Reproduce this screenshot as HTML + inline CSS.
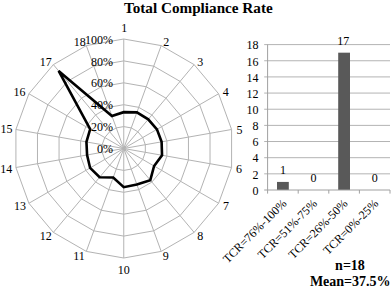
<!DOCTYPE html><html><head><meta charset="utf-8"><style>html,body{margin:0;padding:0;background:#fff;width:392px;height:288px;overflow:hidden}svg{display:block}text{font-family:"Liberation Serif",serif;fill:#000}</style></head><body>
<svg width="392" height="288" viewBox="0 0 392 288">
<polygon points="123.75,126.60 131.24,127.92 137.83,131.72 142.72,137.55 145.32,144.70 145.32,152.30 142.72,159.45 137.83,165.28 131.24,169.08 123.75,170.40 116.26,169.08 109.67,165.28 104.78,159.45 102.18,152.30 102.18,144.70 104.78,137.55 109.67,131.72 116.26,127.92" fill="none" stroke="#b3b3b3" stroke-width="1"/>
<polygon points="123.75,104.70 138.73,107.34 151.90,114.95 161.68,126.60 166.88,140.89 166.88,156.11 161.68,170.40 151.90,182.05 138.73,189.66 123.75,192.30 108.77,189.66 95.60,182.05 85.82,170.40 80.62,156.11 80.62,140.89 85.82,126.60 95.60,114.95 108.77,107.34" fill="none" stroke="#b3b3b3" stroke-width="1"/>
<polygon points="123.75,82.80 146.22,86.76 165.98,98.17 180.65,115.65 188.45,137.09 188.45,159.91 180.65,181.35 165.98,198.83 146.22,210.24 123.75,214.20 101.28,210.24 81.52,198.83 66.85,181.35 59.05,159.91 59.05,137.09 66.85,115.65 81.52,98.17 101.28,86.76" fill="none" stroke="#b3b3b3" stroke-width="1"/>
<polygon points="123.75,60.90 153.71,66.18 180.06,81.39 199.61,104.70 210.02,133.29 210.02,163.71 199.61,192.30 180.06,215.61 153.71,230.82 123.75,236.10 93.79,230.82 67.44,215.61 47.89,192.30 37.48,163.71 37.48,133.29 47.89,104.70 67.44,81.39 93.79,66.18" fill="none" stroke="#b3b3b3" stroke-width="1"/>
<polygon points="123.75,39.00 161.20,45.60 194.14,64.62 218.58,93.75 231.59,129.49 231.59,167.51 218.58,203.25 194.14,232.38 161.20,251.40 123.75,258.00 86.30,251.40 53.36,232.38 28.92,203.25 15.91,167.51 15.91,129.49 28.92,93.75 53.36,64.62 86.30,45.60" fill="none" stroke="#b3b3b3" stroke-width="1"/>
<line x1="123.75" y1="148.50" x2="123.75" y2="39.00" stroke="#b3b3b3" stroke-width="1"/>
<line x1="123.75" y1="148.50" x2="161.20" y2="45.60" stroke="#b3b3b3" stroke-width="1"/>
<line x1="123.75" y1="148.50" x2="194.14" y2="64.62" stroke="#b3b3b3" stroke-width="1"/>
<line x1="123.75" y1="148.50" x2="218.58" y2="93.75" stroke="#b3b3b3" stroke-width="1"/>
<line x1="123.75" y1="148.50" x2="231.59" y2="129.49" stroke="#b3b3b3" stroke-width="1"/>
<line x1="123.75" y1="148.50" x2="231.59" y2="167.51" stroke="#b3b3b3" stroke-width="1"/>
<line x1="123.75" y1="148.50" x2="218.58" y2="203.25" stroke="#b3b3b3" stroke-width="1"/>
<line x1="123.75" y1="148.50" x2="194.14" y2="232.38" stroke="#b3b3b3" stroke-width="1"/>
<line x1="123.75" y1="148.50" x2="161.20" y2="251.40" stroke="#b3b3b3" stroke-width="1"/>
<line x1="123.75" y1="148.50" x2="123.75" y2="258.00" stroke="#b3b3b3" stroke-width="1"/>
<line x1="123.75" y1="148.50" x2="86.30" y2="251.40" stroke="#b3b3b3" stroke-width="1"/>
<line x1="123.75" y1="148.50" x2="53.36" y2="232.38" stroke="#b3b3b3" stroke-width="1"/>
<line x1="123.75" y1="148.50" x2="28.92" y2="203.25" stroke="#b3b3b3" stroke-width="1"/>
<line x1="123.75" y1="148.50" x2="15.91" y2="167.51" stroke="#b3b3b3" stroke-width="1"/>
<line x1="123.75" y1="148.50" x2="15.91" y2="129.49" stroke="#b3b3b3" stroke-width="1"/>
<line x1="123.75" y1="148.50" x2="28.92" y2="93.75" stroke="#b3b3b3" stroke-width="1"/>
<line x1="123.75" y1="148.50" x2="53.36" y2="64.62" stroke="#b3b3b3" stroke-width="1"/>
<line x1="123.75" y1="148.50" x2="86.30" y2="45.60" stroke="#b3b3b3" stroke-width="1"/>
<polygon points="123.75,112.15 136.90,112.38 148.24,119.31 156.94,129.34 161.60,141.83 162.03,155.25 154.10,166.02 150.29,180.12 136.86,184.51 123.75,187.15 113.19,177.52 99.61,177.27 90.09,167.94 87.09,154.96 86.44,141.92 90.18,129.12 58.64,70.91 111.92,115.98" fill="none" stroke="#000" stroke-width="2.6" stroke-linejoin="miter" stroke-miterlimit="4"/>
<text x="113" y="153.10" font-size="12" text-anchor="end">0%</text>
<text x="113" y="131.20" font-size="12" text-anchor="end">20%</text>
<text x="113" y="109.30" font-size="12" text-anchor="end">40%</text>
<text x="113" y="87.40" font-size="12" text-anchor="end">60%</text>
<text x="113" y="65.50" font-size="12" text-anchor="end">80%</text>
<text x="113" y="43.60" font-size="12" text-anchor="end">100%</text>
<text x="124.25" y="32.40" font-size="12" text-anchor="middle">1</text>
<text x="166.15" y="46.05" font-size="12" text-anchor="middle">2</text>
<text x="200.20" y="66.05" font-size="12" text-anchor="middle">3</text>
<text x="225.85" y="95.90" font-size="12" text-anchor="middle">4</text>
<text x="239.50" y="133.50" font-size="12" text-anchor="middle">5</text>
<text x="239.00" y="172.80" font-size="12" text-anchor="middle">6</text>
<text x="226.00" y="209.85" font-size="12" text-anchor="middle">7</text>
<text x="200.20" y="240.45" font-size="12" text-anchor="middle">8</text>
<text x="165.85" y="259.85" font-size="12" text-anchor="middle">9</text>
<text x="123.80" y="273.55" font-size="12" text-anchor="middle">10</text>
<text x="79.10" y="259.85" font-size="12" text-anchor="middle">11</text>
<text x="45.80" y="240.05" font-size="12" text-anchor="middle">12</text>
<text x="19.95" y="209.70" font-size="12" text-anchor="middle">13</text>
<text x="6.25" y="172.55" font-size="12" text-anchor="middle">14</text>
<text x="6.60" y="133.45" font-size="12" text-anchor="middle">15</text>
<text x="19.60" y="96.20" font-size="12" text-anchor="middle">16</text>
<text x="45.70" y="66.05" font-size="12" text-anchor="middle">17</text>
<text x="79.70" y="46.10" font-size="12" text-anchor="middle">18</text>
<text x="198.35" y="12.6" font-size="15.2" font-weight="bold" text-anchor="middle">Total Compliance Rate</text>
<line x1="264.20" y1="173.84" x2="390.00" y2="173.84" stroke="#b3b3b3" stroke-width="1"/>
<line x1="264.20" y1="157.69" x2="390.00" y2="157.69" stroke="#b3b3b3" stroke-width="1"/>
<line x1="264.20" y1="141.53" x2="390.00" y2="141.53" stroke="#b3b3b3" stroke-width="1"/>
<line x1="264.20" y1="125.38" x2="390.00" y2="125.38" stroke="#b3b3b3" stroke-width="1"/>
<line x1="264.20" y1="109.22" x2="390.00" y2="109.22" stroke="#b3b3b3" stroke-width="1"/>
<line x1="264.20" y1="93.07" x2="390.00" y2="93.07" stroke="#b3b3b3" stroke-width="1"/>
<line x1="264.20" y1="76.91" x2="390.00" y2="76.91" stroke="#b3b3b3" stroke-width="1"/>
<line x1="264.20" y1="60.76" x2="390.00" y2="60.76" stroke="#b3b3b3" stroke-width="1"/>
<line x1="264.20" y1="44.60" x2="390.00" y2="44.60" stroke="#b3b3b3" stroke-width="1"/>
<text x="258.5" y="194.75" font-size="12" text-anchor="end">0</text>
<text x="258.5" y="178.59" font-size="12" text-anchor="end">2</text>
<text x="258.5" y="162.44" font-size="12" text-anchor="end">4</text>
<text x="258.5" y="146.28" font-size="12" text-anchor="end">6</text>
<text x="258.5" y="130.13" font-size="12" text-anchor="end">8</text>
<text x="258.5" y="113.97" font-size="12" text-anchor="end">10</text>
<text x="258.5" y="97.82" font-size="12" text-anchor="end">12</text>
<text x="258.5" y="81.66" font-size="12" text-anchor="end">14</text>
<text x="258.5" y="65.51" font-size="12" text-anchor="end">16</text>
<text x="258.5" y="49.35" font-size="12" text-anchor="end">18</text>
<rect x="277.00" y="181.92" width="11.8" height="8.08" fill="#595959"/>
<text x="282.90" y="174.32" font-size="12" text-anchor="middle">1</text>
<text x="313.50" y="182.40" font-size="12" text-anchor="middle">0</text>
<rect x="338.20" y="52.68" width="11.8" height="137.32" fill="#595959"/>
<text x="343.30" y="45.08" font-size="12" text-anchor="middle">17</text>
<text x="374.70" y="182.40" font-size="12" text-anchor="middle">0</text>
<line x1="264.20" y1="190.00" x2="390.00" y2="190.00" stroke="#a0a0a0" stroke-width="1"/>
<line x1="267.60" y1="44.60" x2="267.60" y2="193.60" stroke="#a0a0a0" stroke-width="1"/>
<line x1="298.20" y1="190.00" x2="298.20" y2="193.60" stroke="#a0a0a0" stroke-width="1"/>
<line x1="328.80" y1="190.00" x2="328.80" y2="193.60" stroke="#a0a0a0" stroke-width="1"/>
<line x1="359.40" y1="190.00" x2="359.40" y2="193.60" stroke="#a0a0a0" stroke-width="1"/>
<line x1="390.00" y1="190.00" x2="390.00" y2="193.60" stroke="#a0a0a0" stroke-width="1"/>
<text transform="translate(281.00,198.00) rotate(-45)" x="0" y="0" font-size="12" text-anchor="end" dominant-baseline="hanging">TCR=76%-100%</text>
<text transform="translate(311.60,198.00) rotate(-45)" x="0" y="0" font-size="12" text-anchor="end" dominant-baseline="hanging">TCR=51%-75%</text>
<text transform="translate(342.20,198.00) rotate(-45)" x="0" y="0" font-size="12" text-anchor="end" dominant-baseline="hanging">TCR=26%-50%</text>
<text transform="translate(372.80,198.00) rotate(-45)" x="0" y="0" font-size="12" text-anchor="end" dominant-baseline="hanging">TCR=0%-25%</text>
<text x="350" y="269.8" font-size="14" font-weight="bold" text-anchor="middle">n=18</text>
<text x="350.25" y="286" font-size="14" font-weight="bold" text-anchor="middle">Mean=37.5%</text>
</svg></body></html>
